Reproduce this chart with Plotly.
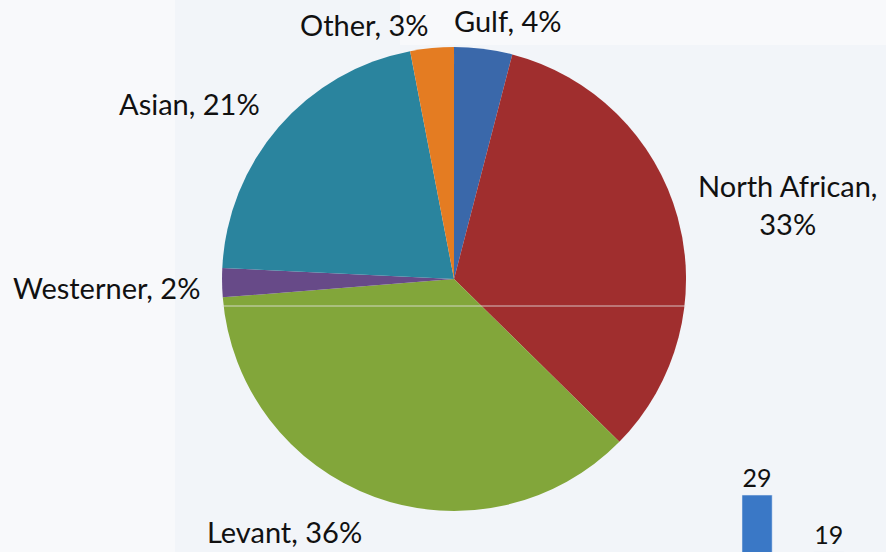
import plotly.graph_objects as go

# ── Data ────────────────────────────────────────────────────────────────────
groups = ["Gulf", "North African", "Levant", "Westerner", "Asian", "Other"]
shares = [4, 33, 36, 2, 21, 3]
slice_colours = ["#3a68aa", "#a02e2e", "#82a63a", "#674a88", "#2a849e", "#e47c22"]

# cropped bars from a neighbouring chart (bottom right)
side_cats = ["a", "b"]
side_vals = [29, 19]

FONT = "Lato, 'Open Sans', sans-serif"

fig = go.Figure()

fig.add_trace(
    go.Pie(
        labels=groups,
        values=shares,
        sort=False,
        direction="clockwise",
        rotation=0,
        marker=dict(colors=slice_colours, line=dict(width=0)),
        textinfo="none",
        hoverinfo="label+percent",
        showlegend=False,
        domain=dict(x=[0.2506, 0.7743], y=[0.0743, 0.9149]),
    )
)

fig.add_trace(
    go.Bar(
        x=side_cats,
        y=side_vals,
        marker_color="#3a78c6",
        text=side_vals,
        textposition="outside",
        textfont=dict(size=25, color="#111111", family=FONT),
        cliponaxis=False,
        showlegend=False,
        xaxis="x2",
        yaxis="y2",
    )
)

# ── Labels placed like the original data callouts ──────────────────────────
label_pos = {
    "Gulf": (507, 20),
    "North African": (787, 204),
    "Levant": (284, 531),
    "Westerner": (106, 287),
    "Asian": (189, 103),
    "Other": (364, 25),
}
for name, val in zip(groups, shares):
    px_x, px_y = label_pos[name]
    sep = ",<br>" if name == "North African" else ", "
    fig.add_annotation(
        x=px_x / 886, y=1 - px_y / 552,
        xref="paper", yref="paper",
        text=f"{name}{sep}{val}%",
        showarrow=False,
        xanchor="center", yanchor="middle",
        font=dict(size=29, color="#111111", family=FONT),
    )

# background panels and the stray divider line
fig.add_shape(type="rect", xref="paper", yref="paper", x0=0, x1=175 / 886, y0=0, y1=1,
              fillcolor="#f8f9fb", line_width=0, layer="below")
fig.add_shape(type="rect", xref="paper", yref="paper", x0=400 / 886, x1=1, y0=1 - 45 / 552, y1=1,
              fillcolor="#f8f9fb", line_width=0, layer="below")
fig.add_shape(type="line", xref="paper", yref="paper", x0=222 / 886, x1=686 / 886,
              y0=1 - 306 / 552, y1=1 - 306 / 552,
              line=dict(color="rgba(230,230,230,0.8)", width=1))

fig.update_layout(
    width=886,
    height=552,
    paper_bgcolor="#f2f5f9",
    plot_bgcolor="rgba(0,0,0,0)",
    margin=dict(l=0, r=0, t=0, b=0),
    font=dict(family=FONT, color="#111111"),
    bargap=0.58,
    xaxis2=dict(domain=[0.814, 0.976], anchor="y2", visible=False, range=[-0.5, 1.5]),
    yaxis2=dict(domain=[0, 0.2], anchor="x2", visible=False, range=[19, 38.4]),
)

# drop the browser's default page margin so the figure sits at the window corner
fig.write_html(
    "out.html",
    config={"displayModeBar": False},
    post_script="document.body.style.margin='0';",
)
